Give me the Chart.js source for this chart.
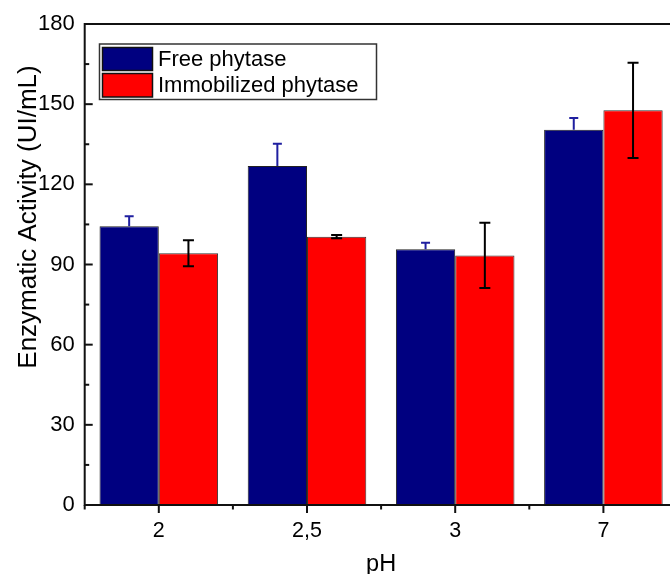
<!DOCTYPE html>
<html>
<head>
<meta charset="utf-8">
<script src="https://cdn.jsdelivr.net/npm/chart.js@4/dist/chart.umd.min.js"></script>
<style>
  html, body { margin: 0; padding: 0; background: #fff; overflow: hidden; width: 670px; height: 574px; }
  canvas { display: block; }
</style>
</head>
<body>
<canvas id="c" width="700" height="574"></canvas>
<script>
// pH values tested
const categories = ['2', '2,5', '3', '7'];
// Enzymatic activity (UI/mL) and standard deviations
const freeActivity = [104.3, 126.9, 95.7, 140.4];
const freeError = [3.8, 8.3, 2.4, 4.4];
const immobilizedActivity = [94.2, 100.4, 93.4, 147.7];
const immobilizedError = [4.9, 0.6, 12.2, 17.8];
const yTicks = [0, 30, 60, 90, 120, 150, 180];
const seriesNames = ['Free phytase', 'Immobilized phytase'];

const FONT = "'Liberation Sans', Arial, sans-serif";

// Axis frame with inward y ticks and outward x ticks
const framePlugin = {
  id: 'frame',
  afterDatasetsDraw(chart) {
    const { ctx, chartArea: a, scales: { x, y } } = chart;
    ctx.save();
    ctx.strokeStyle = '#111';
    ctx.lineWidth = 2;
    ctx.beginPath();
    ctx.moveTo(a.left, a.top); ctx.lineTo(a.right, a.top);
    ctx.lineTo(a.right, a.bottom); ctx.lineTo(a.left, a.bottom);
    ctx.closePath();
    ctx.stroke();
    ctx.lineWidth = 2;
    // y ticks (major and minor, pointing into the plot)
    for (let v = y.min; v <= y.max + 1e-6; v += 15) {
      const py = y.getPixelForValue(v);
      const len = (v % 30 === 0) ? 8 : 4.5;
      ctx.beginPath();
      ctx.moveTo(a.left, py); ctx.lineTo(a.left + len, py);
      ctx.stroke();
    }
    // x ticks: major at categories, minor at category boundaries
    const n = categories.length;
    const step = (a.right - a.left) / n;
    for (let i = 0; i <= n; i++) {
      const px = a.left + i * step;
      ctx.beginPath(); ctx.moveTo(px, a.bottom); ctx.lineTo(px, a.bottom + 4.5); ctx.stroke();
    }
    for (let i = 0; i < n; i++) {
      const px = x.getPixelForValue(i);
      ctx.beginPath(); ctx.moveTo(px, a.bottom); ctx.lineTo(px, a.bottom + 8); ctx.stroke();
    }
    ctx.restore();
  }
};

// Error bars: free enzyme shows upper whisker only, immobilized shows both
const errorBarPlugin = {
  id: 'errorBars',
  afterDatasetsDraw(chart) {
    const { ctx, scales: { y } } = chart;
    const errs = [freeError, immobilizedError];
    const colors = ['#1f1fa0', '#000000'];
    const capW = [9, 11];
    ctx.save();
    chart.data.datasets.forEach((ds, di) => {
      const meta = chart.getDatasetMeta(di);
      meta.data.forEach((bar, i) => {
        const v = ds.data[i], e = errs[di][i];
        const cx = bar.x;
        const yTop = y.getPixelForValue(v + e);
        const yBot = di === 0 ? y.getPixelForValue(v) : y.getPixelForValue(v - e);
        ctx.strokeStyle = colors[di];
        ctx.lineWidth = 2;
        ctx.beginPath();
        ctx.moveTo(cx, yTop); ctx.lineTo(cx, yBot);
        ctx.moveTo(cx - capW[di] / 2, yTop); ctx.lineTo(cx + capW[di] / 2, yTop);
        if (di === 1) { ctx.moveTo(cx - capW[di] / 2, yBot); ctx.lineTo(cx + capW[di] / 2, yBot); }
        ctx.stroke();
      });
    });
    ctx.restore();
  }
};

// Boxed legend in the upper-left corner and axis titles
const decorPlugin = {
  id: 'decor',
  afterDraw(chart) {
    const { ctx, chartArea: a } = chart;
    ctx.save();
    // legend box
    ctx.fillStyle = '#fff';
    ctx.fillRect(99.5, 44, 277, 55.5);
    ctx.strokeStyle = '#333';
    ctx.lineWidth = 1.5;
    ctx.strokeRect(99.5, 44, 277, 55.5);
    const rows = [[47.5, 70.5], [73.5, 97]];
    chart.data.datasets.forEach((ds, i) => {
      const [t, b] = rows[i];
      ctx.fillStyle = ds.backgroundColor;
      ctx.fillRect(102.5, t, 50, b - t);
      ctx.strokeStyle = '#111';
      ctx.lineWidth = 1.5;
      ctx.strokeRect(102.5, t, 50, b - t);
      ctx.fillStyle = '#000';
      ctx.font = '22px ' + FONT;
      ctx.textAlign = 'left';
      ctx.textBaseline = 'middle';
      ctx.fillText(ds.label, 158, (t + b) / 2 + 1);
    });
    // x title
    ctx.fillStyle = '#000';
    ctx.font = '23.5px ' + FONT;
    ctx.textAlign = 'center';
    ctx.textBaseline = 'alphabetic';
    ctx.fillText('pH', (a.left + a.right) / 2, 571);
    // y title
    ctx.translate(36, 217);
    ctx.rotate(-Math.PI / 2);
    ctx.font = '26px ' + FONT;
    ctx.textAlign = 'center';
    ctx.textBaseline = 'alphabetic';
    ctx.fillText('Enzymatic Activity (UI/mL)', 0, 0);
    ctx.restore();
  }
};

new Chart(document.getElementById('c'), {
  type: 'bar',
  data: {
    labels: categories,
    datasets: [
      { label: seriesNames[0], data: freeActivity, backgroundColor: '#000080', borderColor: '#222', borderWidth: 1 },
      { label: seriesNames[1], data: immobilizedActivity, backgroundColor: '#ff0000', borderColor: '#333', borderWidth: 1 }
    ]
  },
  options: {
    responsive: false,
    animation: false,
    devicePixelRatio: 1,
    layout: { padding: { top: 24, right: 22.5, left: 0, bottom: 0 } },
    plugins: { legend: { display: false }, tooltip: { enabled: false } },
    datasets: { bar: { categoryPercentage: 0.8, barPercentage: 1.0 } },
    scales: {
      x: {
        grid: { display: false, drawTicks: false },
        border: { display: false },
        ticks: { color: '#000', font: { family: FONT, size: 21.5 }, padding: 13 },
        afterFit(s) { s.height = 69; }
      },
      y: {
        min: 0, max: 180,
        grid: { display: false, drawTicks: false },
        border: { display: false },
        afterBuildTicks(s) { s.ticks = yTicks.map(v => ({ value: v })); },
        ticks: { color: '#000', font: { family: FONT, size: 22 }, padding: 10 },
        afterFit(s) { s.width = 84.7; }
      }
    }
  },
  plugins: [framePlugin, errorBarPlugin, decorPlugin]
});
</script>
</body>
</html>
